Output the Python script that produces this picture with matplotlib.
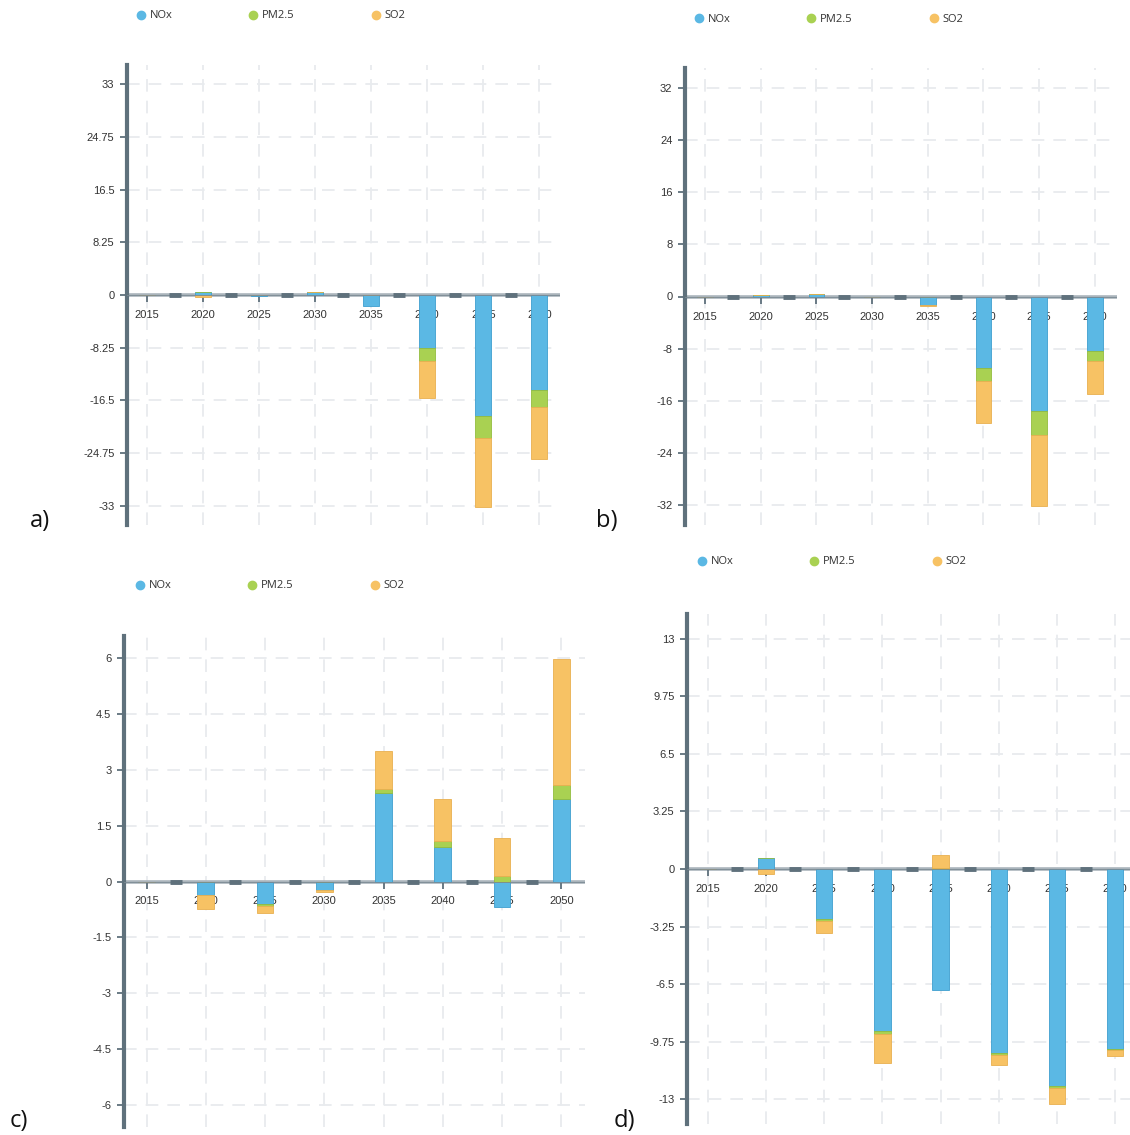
import numpy as np
import matplotlib
matplotlib.use("Agg")
import matplotlib.pyplot as plt
from matplotlib.lines import Line2D

years = ["2015", "2020", "2025", "2030", "2035", "2040", "2045", "2050"]
series_names = ["NOx", "PM2.5", "SO2"]
colors = ["#5bb8e4", "#a9d152", "#f7c264"]
edges = ["#3f9fcf", "#93bd3e", "#e9b050"]

# panel a
a_nox = [0, 0.5, -0.2, 0.4, -1.7, -8.35, -18.9, -14.9]
a_pm = [0, 0, 0, 0, 0, -1.95, -3.5, -2.65]
a_so2 = [0, -0.3, 0, 0, 0, -5.8, -10.8, -8.1]
a_ticks = [-33, -24.75, -16.5, -8.25, 0, 8.25, 16.5, 24.75, 33]

# panel b
b_nox = [0, 0.3, 0.4, -0.15, -1.3, -11.0, -17.6, -8.3]
b_pm = [0, 0, 0, 0, 0, -2.0, -3.65, -1.6]
b_so2 = [0, 0, 0, 0, -0.1, -6.3, -10.9, -5.05]
b_ticks = [-32, -24, -16, -8, 0, 8, 16, 24, 32]

# panel c
c_nox = [0, -0.36, -0.61, -0.24, 2.38, 0.92, -0.68, 2.21]
c_pm = [0, 0, -0.05, 0, 0.12, 0.16, 0.14, 0.39]
c_so2 = [0, -0.37, -0.2, -0.04, 1.01, 1.13, 1.03, 3.38]
c_ticks = [-6, -4.5, -3, -1.5, 0, 1.5, 3, 4.5, 6]

# panel d
d_nox = [0, 0.62, -2.83, -9.15, -6.85, -10.4, -12.23, -10.15]
d_pm = [0, 0, -0.1, -0.19, 0.05, -0.1, -0.12, -0.05]
d_so2 = [0, -0.3, -0.68, -1.62, 0.75, -0.54, -0.94, -0.36]
d_ticks = [-13, -9.75, -6.5, -3.25, 0, 3.25, 6.5, 9.75, 13]

W, H = 1130, 1135
fig = plt.figure(figsize=(W / 100, H / 100), dpi=100)
fig.patch.set_facecolor("white")

axis_col = "#5f717c"
grid_col = "#e8ebee"


def px(l, t, r, b):
    return [l / W, 1 - b / H, (r - l) / W, (b - t) / H]


def panel(rect, xlim, ylim, ticks, data, legend_xy, letter, letter_xy):
    ax = fig.add_axes(px(*rect))
    x = np.arange(len(years))
    pos = np.zeros(len(years))
    neg = np.zeros(len(years))
    for vals, c, ec in zip(data, colors, edges):
        v = np.array(vals, dtype=float)
        base = np.where(v >= 0, pos, neg)
        ax.bar(x, v, 0.28, bottom=base, color=c, edgecolor=ec, linewidth=0.6, zorder=2)
        pos = pos + np.where(v > 0, v, 0)
        neg = neg + np.where(v < 0, v, 0)

    ax.set_xlim(*xlim)
    ax.set_ylim(-ylim, ylim)
    ax.set_yticks(ticks)
    ax.set_yticklabels(["%g" % t for t in ticks], fontsize=8, color="#333333",
                       family="Liberation Sans")
    ax.set_xticks([])
    for s in ["top", "right", "bottom"]:
        ax.spines[s].set_visible(False)
    ax.spines["left"].set_color(axis_col)
    ax.spines["left"].set_linewidth(3)
    ax.tick_params(axis="y", length=5, width=1.3, color=axis_col, pad=4)

    for t in ticks:
        ax.axhline(t, color=grid_col, lw=1.3, ls=(0, (7, 5)), zorder=0)
    for i in x:
        ax.axvline(i, color=grid_col, lw=1.3, ls=(0, (7, 5)), zorder=0)

    # zero axis line
    ax.axhline(0, color="#aab4bb", lw=2.6, zorder=1.5)
    ax.axhline(0, color="#7b8a93", lw=0.6, zorder=3)
    ax.plot(x[:-1] + 0.5, np.zeros(len(x) - 1), ls="none", marker="_", ms=8, mew=3.5,
            color=axis_col, zorder=3)
    ax.plot(x, np.zeros(len(x)), ls="none", marker=3, ms=5, mew=1.3, color=axis_col, zorder=1.6)

    for i, yr in zip(x, years):
        ax.annotate(yr, (i, 0), xytext=(0, -20), textcoords="offset pixels",
                    ha="center", va="center", fontsize=8, color="#333333",
                    family="Liberation Sans", zorder=1, annotation_clip=False)

    handles = [Line2D([], [], ls="none", marker="o", ms=6, color=c) for c in colors]
    leg = fig.legend(handles, series_names, loc="center left",
                     bbox_to_anchor=(legend_xy[0] / W, 1 - legend_xy[1] / H),
                     ncol=3, frameon=False, handletextpad=0.3,
                     columnspacing=6.8, handlelength=1.0, borderpad=0, borderaxespad=0,
                     prop={"family": "Open Sans", "size": 8})
    for t in leg.get_texts():
        t.set_color("#333333")

    fig.text(letter_xy[0] / W, 1 - letter_xy[1] / H, letter, fontsize=17,
             family="Open Sans", color="#111111", ha="left", va="center")
    return ax


panel((127, 65, 560, 525), (-0.36, 7.37), 36.0, a_ticks, [a_nox, a_pm, a_so2],
      (135, 16), "a)", (30, 521))
panel((685, 68, 1117, 525), (-0.36, 7.4), 35.0, b_ticks, [b_nox, b_pm, b_so2],
      (693, 19), "b)", (596, 521))
panel((124, 636, 585, 1127), (-0.38, 7.4), 6.6, c_ticks, [c_nox, c_pm, c_so2],
      (134, 586), "c)", (10, 1121))
panel((687, 614, 1150, 1124), (-0.36, 7.6), 14.4, d_ticks, [d_nox, d_pm, d_so2],
      (696, 562), "d)", (614, 1121))

fig.savefig("out.png", dpi=100, facecolor="white")
